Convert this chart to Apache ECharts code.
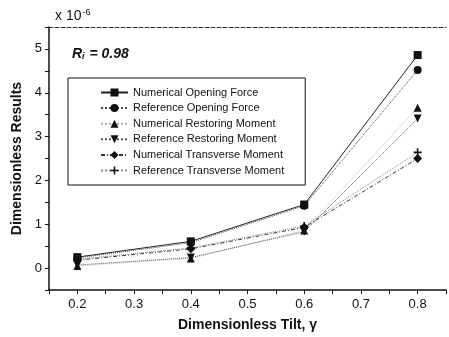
<!DOCTYPE html>
<html><head><meta charset="utf-8">
<script src="https://cdn.jsdelivr.net/npm/echarts@6/dist/echarts.min.js"></script>
<style>html,body{margin:0;padding:0;background:#fff}#c{width:449px;height:337px}</style>
</head><body><div id="c"></div>
<script>
const tilt = [0.2, 0.4, 0.6, 0.8];
const numOpening = [0.25, 0.61, 1.45, 4.86];
const refOpening = [0.23, 0.58, 1.42, 4.52];
const numRestoring = [0.05, 0.22, 0.86, 3.66];
const refRestoring = [0.07, 0.24, 0.83, 3.41];
const numTransverse = [0.18, 0.44, 0.93, 2.50];
const refTransverse = [0.20, 0.46, 0.96, 2.64];
const seriesNames = ['Numerical Opening Force','Reference Opening Force','Numerical Restoring Moment','Reference Restoring Moment','Numerical Transverse Moment','Reference Transverse Moment'];

const plus = 'path://M4,0H6V4H10V6H6V10H4V6H0V4H4Z';
const font = 'Liberation Sans, Arial, sans-serif';
function mk(name, vals, symbol, size, lineType, lineColor, lineW){
  return {name, type:'line', data: tilt.map((t,i)=>[t, vals[i]]), symbol, symbolSize:size,
    itemStyle:{color:'#111'}, lineStyle:{color:lineColor, width:lineW, type:lineType}, z:3};
}
const chart = echarts.init(document.getElementById('c'));
chart.setOption({
  animation:false,
  grid:{left:49, right:-2, top:27, bottom:46},
  legend:{orient:'vertical', left:68, top:78, itemWidth:27, itemHeight:10, itemGap:4.6,
    padding:[9,21,9,32], borderColor:'#111', borderWidth:1,
    textStyle:{fontFamily:font, fontSize:11, color:'#111'}, data:seriesNames},
  xAxis:[{type:'value', min:0.15, max:0.85, interval:0.05,
    axisLine:{onZero:false, lineStyle:{color:'#111', width:1.5}},
    axisTick:{show:true, length:4, inside:false, lineStyle:{color:'#111'}},
    axisLabel:{fontFamily:font, fontSize:13, color:'#111', margin:8,
      formatter:v=>{const r=Math.round(v*10); return Math.abs(v*10-r)<1e-6 ? (r/10).toFixed(1) : '';}},
    splitLine:{show:false},
    name:'Dimensionless Tilt, \u03b3', nameLocation:'middle', nameGap:28,
    nameTextStyle:{fontFamily:font, fontSize:14, fontWeight:'bold', color:'#111'}},
   {type:'value', position:'top', min:0.15, max:0.85,
    axisLine:{show:true, onZero:false, lineStyle:{color:'#333', type:'dashed', width:1}},
    axisTick:{show:false}, axisLabel:{show:false}, splitLine:{show:false}}],
  yAxis:{type:'value', min:-0.5, max:5.5, interval:0.5,
    axisLine:{show:true, onZero:false, lineStyle:{color:'#111', width:1.5}},
    axisTick:{show:true, length:4, lineStyle:{color:'#111'}},
    axisLabel:{fontFamily:font, fontSize:13, color:'#111', margin:7,
      formatter:v=>{const r=Math.round(v); return Math.abs(v-r)<1e-6 ? String(r) : '';}},
    splitLine:{show:false},
    name:'Dimensionless Results', nameLocation:'middle', nameGap:25,
    nameTextStyle:{fontFamily:font, fontSize:14, fontWeight:'bold', color:'#111'}},
  graphic:[
    {type:'text', left:55, top:8, style:{text:'x 10{s|-6}', fontFamily:font, fontSize:14, fill:'#111',
      rich:{s:{fontSize:9, verticalAlign:'top', padding:[0,0,8,1], fill:'#111', fontFamily:font}}}},
    {type:'text', left:72, top:47, style:{text:'R{i|i} = 0.98', fontFamily:font, fontSize:14, fontWeight:'bold', fontStyle:'italic', fill:'#111',
      rich:{i:{fontSize:9, fontWeight:'bold', fontStyle:'italic', padding:[6,1,0,0], fill:'#111', fontFamily:font}}}}
  ],
  series:[
    mk(seriesNames[0], numOpening, 'rect', 8, 'solid', '#222', 1),
    mk(seriesNames[1], refOpening, 'circle', 8, 'dotted', '#444', 1),
    mk(seriesNames[2], numRestoring, 'triangle', 8, 'dotted', '#aaa', 0.8),
    mk(seriesNames[3], refRestoring, 'path://M0,0H10L5,9Z', 8, 'dotted', '#555', 1),
    mk(seriesNames[4], numTransverse, 'diamond', 9, [4,2,1,2], '#333', 1),
    mk(seriesNames[5], refTransverse, plus, 8, 'dotted', '#888', 1)
  ]
});
</script></body></html>
